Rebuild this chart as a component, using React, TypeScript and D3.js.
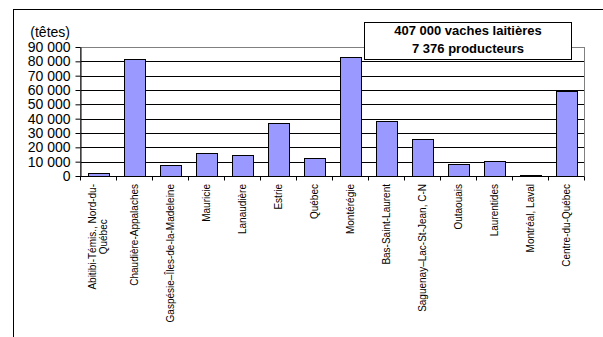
import React, { useEffect, useRef } from "react";
import * as d3 from "d3";

// Dairy herd by administrative region (head count)
const regions = [
  "Abitibi-Témis., Nord-du-\nQuébec",
  "Chaudière-Appalaches",
  "Gaspésie–Îles-de-la-Madeleine",
  "Mauricie",
  "Lanaudière",
  "Estrie",
  "Québec",
  "Montérégie",
  "Bas-Saint-Laurent",
  "Saguenay–Lac-St-Jean, C-N",
  "Outaouais",
  "Laurentides",
  "Montréal, Laval",
  "Centre-du-Québec",
];
const heads = [1900, 81900, 7700, 16200, 15000, 37300, 12400, 83000, 38700, 25800, 8700, 10500, 600, 59600];
const yTicks = [0, 10000, 20000, 30000, 40000, 50000, 60000, 70000, 80000, 90000];
const yUnit = "(têtes)";
const summaryLines = ["407 000 vaches laitières", "7 376 producteurs"];

const FONT = "'Liberation Sans', Arial, Helvetica, sans-serif";

export default function App() {
  const ref = useRef<SVGSVGElement | null>(null);

  useEffect(() => {
    const svg = d3.select(ref.current);
    svg.selectAll("*").remove();

    const left = 80;
    const right = 584;
    const top = 47;
    const bottom = 176;

    const x = d3
      .scaleBand<string>()
      .domain(regions)
      .range([left, right])
      .paddingInner(0.43)
      .paddingOuter(0.215);
    const y = d3.scaleLinear().domain([0, 90000]).range([bottom, top]);

    const fmt = d3
      .formatLocale({ thousands: " ", grouping: [3], decimal: ",", currency: ["", ""] })
      .format(",d");

    // outer frame
    svg
      .append("rect")
      .attr("x", 13.5)
      .attr("y", 9.5)
      .attr("width", 800)
      .attr("height", 500)
      .attr("fill", "white")
      .attr("stroke", "black");

    // gridlines
    svg
      .append("g")
      .selectAll("line")
      .data(yTicks.filter((v) => v > 0))
      .join("line")
      .attr("x1", left)
      .attr("x2", right)
      .attr("y1", (d) => Math.round(y(d)) + 0.5)
      .attr("y2", (d) => Math.round(y(d)) + 0.5)
      .attr("stroke", "black");

    // plot area border
    svg
      .append("rect")
      .attr("x", left + 0.5)
      .attr("y", top + 0.5)
      .attr("width", right - left)
      .attr("height", bottom - top)
      .attr("fill", "none")
      .attr("stroke", "#808080");

    // bars
    svg
      .append("g")
      .selectAll("rect")
      .data(regions)
      .join("rect")
      .attr("x", (d) => Math.round(x(d)!) + 0.5)
      .attr("width", Math.round(x.bandwidth()))
      .attr("y", (d, i) => Math.round(y(heads[i])) + 0.5)
      .attr("height", (d, i) => Math.max(0, Math.round(y(0)) - Math.round(y(heads[i]))))
      .attr("fill", "#9999FF")
      .attr("stroke", "black");

    // y axis
    const yAxis = svg
      .append("g")
      .attr("transform", `translate(${left + 0.5},0)`)
      .call(
        d3
          .axisLeft(y)
          .tickValues(yTicks)
          .tickSize(5)
          .tickSizeOuter(0)
          .tickPadding(5)
          .tickFormat((d) => fmt(d as number))
      );
    yAxis.select(".domain").attr("stroke", "black");
    yAxis.selectAll(".tick line").attr("stroke", "black");
    yAxis
      .selectAll(".tick text")
      .attr("fill", "black")
      .style("font-family", FONT)
      .style("font-size", "14px");

    // x axis line and category ticks
    const y0 = Math.round(y(0)) + 0.5;
    svg
      .append("line")
      .attr("x1", left)
      .attr("x2", right)
      .attr("y1", y0)
      .attr("y2", y0)
      .attr("stroke", "black");
    const step = x.step();
    svg
      .append("g")
      .selectAll("line")
      .data(d3.range(regions.length + 1))
      .join("line")
      .attr("x1", (i) => Math.round(left + i * step) + 0.5)
      .attr("x2", (i) => Math.round(left + i * step) + 0.5)
      .attr("y1", y0)
      .attr("y2", y0 + 4)
      .attr("stroke", "black");

    // rotated category labels
    const lineH = 11.5;
    regions.forEach((r) => {
      const cx = x(r)! + x.bandwidth() / 2;
      const lines = r.split("\n");
      const g = svg.append("g").attr("transform", `translate(${cx},${bottom + 8}) rotate(-90)`);
      const texts = lines.map((ln, i) =>
        g
          .append("text")
          .text(ln)
          .attr("y", (i - (lines.length - 1) / 2) * lineH)
          .attr("dy", "0.35em")
          .attr("text-anchor", "middle")
          .style("font-family", FONT)
          .style("font-size", "10px")
          .attr("fill", "black")
      );
      const maxW = d3.max(texts, (t) => (t.node() as SVGTextElement).getComputedTextLength()) || 0;
      texts.forEach((t) => t.attr("x", -maxW / 2));
    });

    // unit label
    svg
      .append("text")
      .attr("x", 70)
      .attr("y", 37)
      .attr("text-anchor", "end")
      .style("font-family", FONT)
      .style("font-size", "14px")
      .text(yUnit);

    // summary box
    svg
      .append("rect")
      .attr("x", 364.5)
      .attr("y", 22.5)
      .attr("width", 207)
      .attr("height", 37)
      .attr("fill", "white")
      .attr("stroke", "black");
    svg
      .append("g")
      .selectAll("text")
      .data(summaryLines)
      .join("text")
      .attr("x", 468)
      .attr("y", (d, i) => 35 + i * 17.5)
      .attr("text-anchor", "middle")
      .style("font-family", FONT)
      .style("font-size", "13px")
      .style("font-weight", "bold")
      .text((d) => d);
  }, []);

  return (
    <svg
      ref={ref}
      width={603}
      height={337}
      style={{ position: "fixed", left: 0, top: 0, background: "white" }}
    />
  );
}
